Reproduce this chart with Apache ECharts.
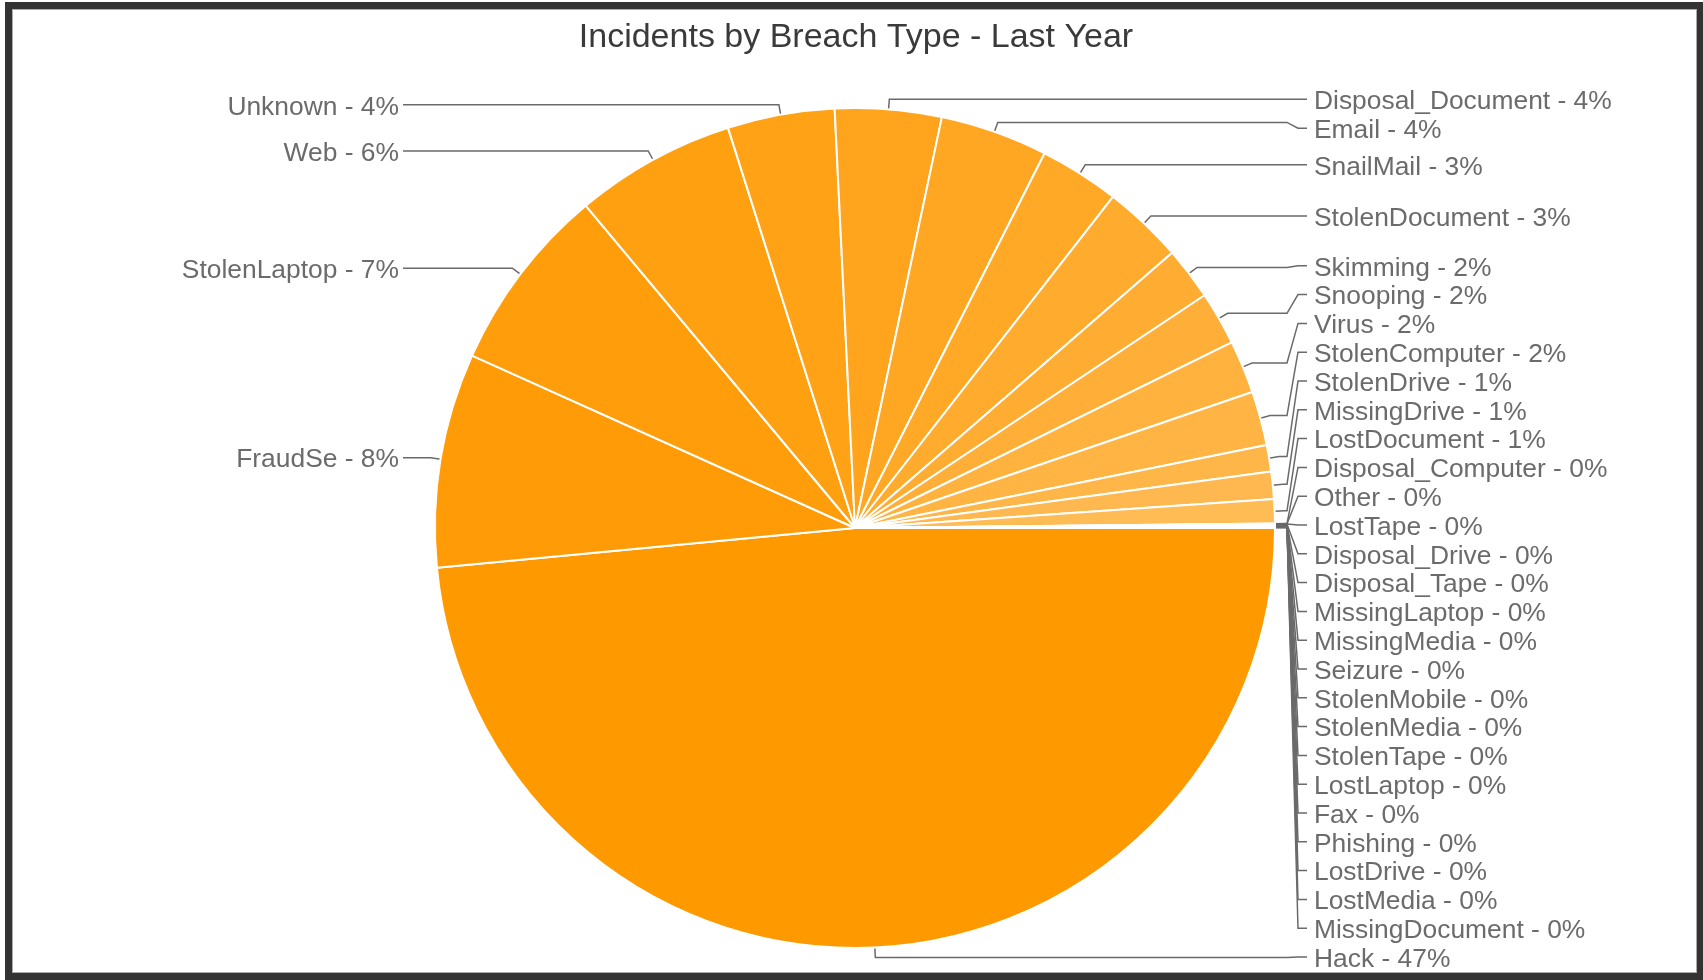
<!DOCTYPE html>
<html>
<head>
<meta charset="utf-8">
<script src="https://cdn.jsdelivr.net/npm/echarts@6/dist/echarts.min.js"></script>
<style>
  html, body { margin: 0; padding: 0; background: #fff; }
  #chart { position: absolute; left: 0; top: 0; width: 1703px; height: 980px; }
  #frame { position: absolute; left: 5px; top: 2px; width: 1699px; height: 978px;
           box-sizing: border-box; border: 7px solid #333; pointer-events: none;
           box-shadow: inset 0 0 0 1px #aaa; }
</style>
</head>
<body>
<div id="chart"></div>
<div id="frame"></div>
<script>
// ---- data ----
const titleText = 'Incidents by Breach Type - Last Year';
const categories = ['Hack', 'FraudSe', 'StolenLaptop', 'Web', 'Unknown', 'Disposal_Document', 'Email',
  'SnailMail', 'StolenDocument', 'Skimming', 'Snooping', 'Virus', 'StolenComputer', 'StolenDrive',
  'MissingDrive', 'LostDocument', 'Disposal_Computer', 'Other', 'LostTape', 'Disposal_Drive',
  'Disposal_Tape', 'MissingLaptop', 'MissingMedia', 'Seizure', 'StolenMobile', 'StolenMedia',
  'StolenTape', 'LostLaptop', 'Fax', 'Phishing', 'LostDrive', 'LostMedia', 'MissingDocument'];
const incidents = [4851, 824, 719, 619, 412, 409, 414, 308, 309, 203, 206, 204, 208, 102, 105, 93,
  1, 1, 1, 1, 1, 1, 1, 1, 1, 1, 1, 1, 1, 1, 1, 1, 1];
const labelPercents = [47, 8, 7, 6, 4, 4, 4, 3, 3, 2, 2, 2, 2, 1, 1, 1,
  0, 0, 0, 0, 0, 0, 0, 0, 0, 0, 0, 0, 0, 0, 0, 0, 0];

// ---- layout constants (not data) ----
const CX = 855, CY = 528, R = 420, LEN = 10;
const REACH = 452;      // distance from centre to label-line end
const GAP_RIGHT = 7, GAP_LEFT = 4;   // line end -> text
const ROW = 28.8;       // min vertical spacing of labels
const TEXT_DY = 2.5;    // text sits slightly below its line
const TOP_BOUND = 20, BOTTOM_BOUND = 957;

function sliceColor(i) {
  const t = Math.min(i * 0.022, 0.45);
  const base = [255, 153, 0];
  const c = base.map(v => Math.round(v + (255 - v) * t));
  return 'rgb(' + c.join(',') + ')';
}

const seriesData = categories.map((name, i) => ({
  name: name,
  value: incidents[i],
  itemStyle: { color: sliceColor(i) }
}));

const fontFam = '"Liberation Sans", Arial, Helvetica, sans-serif';
const chart = echarts.init(document.getElementById('chart'), null, { renderer: 'canvas' });

const natural = [];
function baseOption(layoutFn) {
  return {
    animation: false,
    backgroundColor: '#fff',
    title: {
      text: titleText,
      left: 851,
      top: 16,
      textAlign: 'center',
      textStyle: { fontSize: 34, fontWeight: 'normal', color: '#3a3a3a', fontFamily: fontFam }
    },
    series: [{
      type: 'pie',
      center: [CX, CY],
      radius: R,
      startAngle: 0,
      clockwise: true,
      avoidLabelOverlap: false,
      data: seriesData,
      itemStyle: { borderColor: '#fff', borderWidth: 2 },
      emphasis: { disabled: true },
      label: {
        show: true,
        formatter: p => p.name + ' - ' + labelPercents[p.dataIndex] + '%',
        fontSize: 26.4,
        lineHeight: 28.8,
        color: '#6b6b6b',
        fontFamily: fontFam
      },
      labelLine: {
        show: true,
        length: LEN,
        length2: 20,
        lineStyle: { color: '#6a6a6a', width: 1.5 }
      },
      labelLayout: layoutFn
    }]
  };
}

// pass 1: record the library's natural label-line anchor points
chart.setOption(baseOption(function (params) {
  if (params.labelLinePoints) {
    natural[params.dataIndex] = params.labelLinePoints.map(p => [p[0], p[1]]);
  }
  return {};
}));

// fallback: geometry of slice mid-angles
(function fillMissing() {
  const total = incidents.reduce((a, b) => a + b, 0);
  let cum = 0;
  incidents.forEach((v, i) => {
    const a = (cum + v / 2) / total * Math.PI * 2;
    cum += v;
    if (!natural[i]) {
      natural[i] = [
        [CX + R * Math.cos(a), CY + R * Math.sin(a)],
        [CX + (R + LEN) * Math.cos(a), CY + (R + LEN) * Math.sin(a)]
      ];
    }
  });
})();

// de-overlap labels per side: push down, then push up from the bottom bound
const placed = [];
(function placeLabels() {
  const items = natural.map((p, i) => ({ i: i, p0: p[0], p1: p[1], right: p[1][0] >= CX, y: p[1][1] }));
  [true, false].forEach(side => {
    const list = items.filter(it => it.right === side).sort((a, b) => (a.p1[1] - b.p1[1]) || (a.i - b.i));
    for (let k = 0; k < list.length; k++) {
      const prev = k > 0 ? list[k - 1].y + ROW : TOP_BOUND;
      list[k].y = Math.max(list[k].p1[1], prev);
    }
    if (list.length && list[list.length - 1].y > BOTTOM_BOUND) {
      list[list.length - 1].y = BOTTOM_BOUND;
      for (let k = list.length - 2; k >= 0; k--) {
        list[k].y = Math.min(list[k].y, list[k + 1].y - ROW);
      }
    }
  });
  items.forEach(it => {
    const s = it.right ? 1 : -1;
    const xEnd = CX + s * REACH;
    placed[it.i] = {
      x: xEnd + s * (it.right ? GAP_RIGHT : GAP_LEFT),
      y: it.y,
      align: it.right ? 'left' : 'right',
      pts: [
        [it.p0[0], it.p0[1]],
        [it.p1[0], it.p1[1]],
        [xEnd - s * 20, it.p1[1]],
        [xEnd - s * 9, it.y],
        [xEnd, it.y]
      ]
    };
  });
})();

// pass 2: apply the placement
chart.setOption(baseOption(function (params) {
  const pl = placed[params.dataIndex];
  if (!pl) return {};
  return {
    x: pl.x,
    y: pl.y + TEXT_DY,
    align: pl.align,
    verticalAlign: 'middle',
    labelLinePoints: pl.pts
  };
}));
</script>
</body>
</html>
